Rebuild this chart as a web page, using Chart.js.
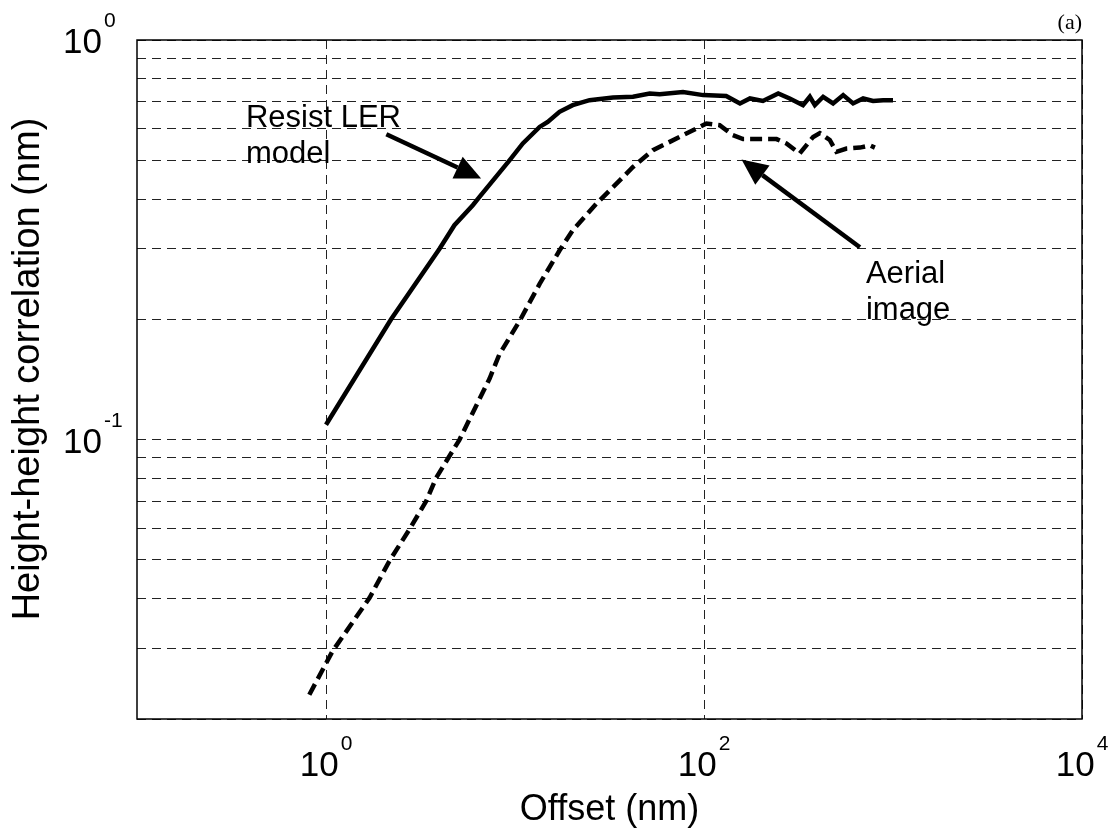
<!DOCTYPE html>
<html>
<head>
<meta charset="utf-8">
<title>Height-height correlation</title>
<script src="https://cdn.jsdelivr.net/npm/chart.js@4.4.1/dist/chart.umd.min.js"></script>
<style>
  html, body { margin: 0; padding: 0; background: #fff; }
  canvas { display: block; }
</style>
</head>
<body>
<canvas id="hhc" width="1115" height="839"></canvas>
<script>
// values: offset (nm) vs height-height correlation (nm)
const resistOffset = [1, 2.21, 3.98, 4.78, 5.98, 6.49, 9.35, 11.0, 13.5, 14.9, 17.2, 20.2, 24.8, 33.0, 42.1,
  51.6, 58.3, 77.4, 99, 131, 155, 175, 205, 247, 284, 334, 363, 386, 427, 482, 545, 615, 695, 785, 887, 1000];
const resistCorr = [0.109, 0.200, 0.300, 0.344, 0.386, 0.405, 0.500, 0.551, 0.606, 0.624, 0.661, 0.687, 0.707, 0.718, 0.721,
  0.735, 0.732, 0.741, 0.728, 0.724, 0.694, 0.714, 0.704, 0.735, 0.714, 0.687, 0.721, 0.687, 0.721, 0.694, 0.728, 0.694, 0.714, 0.704, 0.707, 0.707];

const aerialOffset = [0.816, 1.08, 1.70, 2.16, 2.76, 3.39, 3.83, 5.08, 7.33, 8.28, 10.6, 13.5, 17.2, 20.2, 26.9, 33.0,
  42.1, 53.7, 74.3, 94.9, 103, 121, 142, 161, 242, 273, 321, 378, 410, 463, 502, 568, 668, 755, 802];
const aerialCorr = [0.0230, 0.0295, 0.0402, 0.0496, 0.0596, 0.0702, 0.0803, 0.0999, 0.142, 0.1637, 0.1985, 0.2453, 0.2973, 0.334, 0.389, 0.4286,
  0.481, 0.530, 0.572, 0.606, 0.618, 0.612, 0.578, 0.565, 0.565, 0.551, 0.520, 0.572, 0.585, 0.562, 0.525, 0.535, 0.538, 0.545, 0.538];

// axes
const xRange = [0.1, 10000];
const yRange = [0.02, 1];
const xGridValues = [1, 100, 10000];
const yGridValues = [0.02, 0.03, 0.04, 0.05, 0.06, 0.07, 0.08, 0.09, 0.1, 0.2, 0.3, 0.4, 0.5, 0.6, 0.7, 0.8, 0.9, 1];
const xTickExps = [0, 2, 4];
const yTickExps = [0, -1];

const FONT = "'Liberation Sans', Arial, Helvetica, sans-serif";

// annotations, placed in data coordinates
const notes = [
  { lines: ['Resist LER', 'model'], x: 0.377, y: 0.606 },
  { lines: ['Aerial', 'image'], x: 719, y: 0.247 },
];
const arrows = [
  { from: [2.086, 0.581], to: [6.62, 0.450] },
  { from: [668, 0.303], to: [158, 0.502] },
];

function drawPower(ctx, exp, x, baseY, align) {
  ctx.font = '35px ' + FONT;
  const wb = ctx.measureText('10').width;
  ctx.font = '21px ' + FONT;
  const we = ctx.measureText(String(exp)).width;
  let left;
  if (align === 'center') left = x - (wb + 2 + we) / 2;
  else left = x - wb; // right edge of "10" at x
  ctx.textAlign = 'left';
  ctx.textBaseline = 'alphabetic';
  ctx.font = '35px ' + FONT;
  ctx.fillText('10', left, baseY);
  ctx.font = '21px ' + FONT;
  ctx.fillText(String(exp), left + wb + 2, baseY - 26);
}

function drawArrow(ctx, x1, y1, x2, y2) {
  const ang = Math.atan2(y2 - y1, x2 - x1);
  const len = 26, half = 12;
  const bx = x2 - len * Math.cos(ang), by = y2 - len * Math.sin(ang);
  ctx.lineWidth = 4.5;
  ctx.beginPath();
  ctx.moveTo(x1, y1);
  ctx.lineTo(bx, by);
  ctx.stroke();
  ctx.beginPath();
  ctx.moveTo(x2, y2);
  ctx.lineTo(bx + half * Math.sin(ang), by - half * Math.cos(ang));
  ctx.lineTo(bx - half * Math.sin(ang), by + half * Math.cos(ang));
  ctx.closePath();
  ctx.fill();
}

const decorations = {
  id: 'decorations',
  afterDraw(chart) {
    const { ctx, chartArea: a, scales: { x, y } } = chart;
    ctx.save();
    ctx.setLineDash([]);
    ctx.strokeStyle = '#000';
    ctx.fillStyle = '#000';

    // axes box
    ctx.lineWidth = 1.5;
    ctx.strokeRect(a.left, a.top, a.right - a.left, a.bottom - a.top);

    // tick labels
    xTickExps.forEach(e => drawPower(ctx, e, x.getPixelForValue(Math.pow(10, e)), a.bottom + 57, 'center'));
    yTickExps.forEach(e => drawPower(ctx, e, a.left - 35, y.getPixelForValue(Math.pow(10, e)) + 13, 'right'));

    // axis titles
    ctx.font = '36px ' + FONT;
    ctx.textAlign = 'center';
    ctx.fillText('Offset (nm)', (a.left + a.right) / 2, a.bottom + 101);
    ctx.save();
    ctx.font = '38px ' + FONT;
    ctx.translate(39, 369);
    ctx.rotate(-Math.PI / 2);
    ctx.fillText('Height-height correlation (nm)', 0, 0);
    ctx.restore();

    // panel tag
    ctx.font = "22px 'Liberation Serif', 'Times New Roman', serif";
    ctx.textAlign = 'right';
    ctx.fillText('(a)', a.right, 29);

    // annotations
    ctx.font = '31px ' + FONT;
    ctx.textAlign = 'left';
    notes.forEach(n => {
      const px = x.getPixelForValue(n.x), py = y.getPixelForValue(n.y);
      n.lines.forEach((t, i) => ctx.fillText(t, px, py + i * 36.5));
    });
    arrows.forEach(ar => drawArrow(ctx,
      x.getPixelForValue(ar.from[0]), y.getPixelForValue(ar.from[1]),
      x.getPixelForValue(ar.to[0]), y.getPixelForValue(ar.to[1])));
    ctx.restore();
  },
};

function toPoints(xs, ys) {
  return xs.map((v, i) => ({ x: v, y: ys[i] }));
}

new Chart(document.getElementById('hhc'), {
  type: 'line',
  data: {
    datasets: [
      {
        label: 'Resist LER model',
        data: toPoints(resistOffset, resistCorr),
        borderColor: '#000',
        borderWidth: 4.5,
        pointRadius: 0,
        tension: 0,
      },
      {
        label: 'Aerial image',
        data: toPoints(aerialOffset, aerialCorr),
        borderColor: '#000',
        borderWidth: 4.5,
        borderDash: [12, 6],
        pointRadius: 0,
        tension: 0,
      },
    ],
  },
  options: {
    responsive: false,
    animation: false,
    layout: { padding: { left: 137, top: 40, right: 33, bottom: 120 } },
    plugins: { legend: { display: false }, tooltip: { enabled: false } },
    scales: {
      x: {
        type: 'logarithmic',
        min: xRange[0],
        max: xRange[1],
        bounds: 'data',
        afterBuildTicks: s => { s.ticks = xGridValues.map(v => ({ value: v })); },
        afterFit: s => { s.height = 0; },
        ticks: { display: false },
        grid: { color: '#222', lineWidth: 1, drawTicks: false },
        border: { display: false, dash: [9, 6] },
      },
      y: {
        type: 'logarithmic',
        min: yRange[0],
        max: yRange[1],
        bounds: 'data',
        afterBuildTicks: s => { s.ticks = yGridValues.map(v => ({ value: v })); },
        afterFit: s => { s.width = 0; },
        ticks: { display: false },
        grid: { color: '#222', lineWidth: 1, drawTicks: false },
        border: { display: false, dash: [9, 6] },
      },
    },
  },
  plugins: [decorations],
});
</script>
</body>
</html>
